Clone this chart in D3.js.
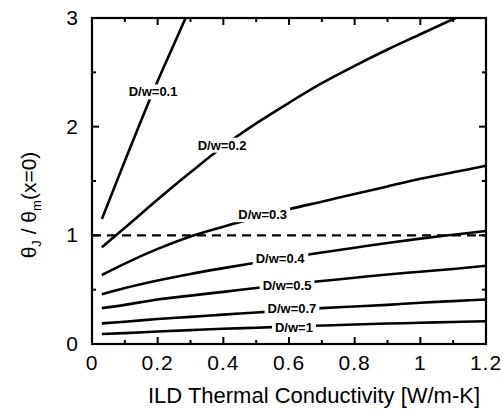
<!DOCTYPE html>
<html><head><meta charset="utf-8">
<script src="https://cdn.jsdelivr.net/npm/d3@7"></script>
<style>body{margin:0;background:#fff;} svg{display:block;}</style>
</head><body>
<svg id="chart" width="503" height="412"></svg>
<script>
// ---- data ----
const xCommon = [0.03,0.1,0.2,0.3,0.4,0.5,0.6,0.7,0.8,0.9,1.0,1.1,1.2];
const dw01X = [0.03,0.085,0.15,0.2,0.25,0.285];
const dw01Y = [1.15,1.57,2.06,2.42,2.76,3.0];
const dw02X = [0.03,0.1,0.2,0.3,0.4,0.5,0.6,0.7,0.8,0.9,1.0,1.107];
const dw02Y = [0.89,1.07,1.33,1.58,1.82,2.03,2.22,2.40,2.56,2.71,2.85,3.0];
const dw03Y = [0.635,0.74,0.875,0.99,1.08,1.16,1.24,1.31,1.38,1.45,1.52,1.58,1.64];
const dw04Y = [0.457,0.515,0.585,0.645,0.698,0.748,0.797,0.842,0.886,0.93,0.97,1.005,1.04];
const dw05Y = [0.33,0.36,0.41,0.445,0.48,0.515,0.55,0.58,0.61,0.64,0.665,0.69,0.72];
const dw07Y = [0.19,0.205,0.23,0.25,0.27,0.29,0.31,0.33,0.345,0.36,0.38,0.395,0.41];
const dw1Y  = [0.092,0.10,0.115,0.128,0.14,0.15,0.16,0.17,0.18,0.188,0.195,0.203,0.21];
const labels = ["D/w=0.1","D/w=0.2","D/w=0.3","D/w=0.4","D/w=0.5","D/w=0.7","D/w=1"];
const labelX = [0.186,0.396,0.52,0.573,0.594,0.609,0.615];
const labelY = [2.32,1.83,1.19,0.79,0.54,0.33,0.156];
const xTicks = [0,0.2,0.4,0.6,0.8,1,1.2];
const xTickLabels = ["0","0.2","0.4","0.6","0.8","1","1.2"];
const yTicks = [0,1,2,3];
const refLine = 1;

const series = [
  {x: dw01X, y: dw01Y},
  {x: dw02X, y: dw02Y},
  {x: xCommon, y: dw03Y},
  {x: xCommon, y: dw04Y},
  {x: xCommon, y: dw05Y},
  {x: xCommon, y: dw07Y},
  {x: xCommon, y: dw1Y}
];

const svg = d3.select("#chart");
const L = 92, R = 486, T = 18, B = 344;
const x = d3.scaleLinear().domain([0,1.2]).range([L,R]);
const y = d3.scaleLinear().domain([0,3]).range([B,T]);

svg.append("rect").attr("width",503).attr("height",412).attr("fill","#fff");

svg.append("defs").append("clipPath").attr("id","clip")
  .append("rect").attr("x",L).attr("y",T).attr("width",R-L).attr("height",B-T);

const line = d3.line().x(d=>x(d[0])).y(d=>y(d[1])).curve(d3.curveMonotoneX);
const g = svg.append("g").attr("clip-path","url(#clip)");

// dashed reference
g.append("line").attr("x1",x(0)).attr("x2",x(1.2)).attr("y1",y(refLine)).attr("y2",y(refLine))
  .attr("stroke","#000").attr("stroke-width",2.2).attr("stroke-dasharray","9,6");

series.forEach(s=>{
  g.append("path").datum(s.x.map((v,i)=>[v,s.y[i]])).attr("d",line)
    .attr("fill","none").attr("stroke","#000").attr("stroke-width",2.6);
});

// labels with white background
labels.forEach((t,i)=>{
  const lg = svg.append("g");
  const txt = lg.append("text").attr("x",x(labelX[i])).attr("y",y(labelY[i]))
    .attr("text-anchor","middle").attr("dominant-baseline","central")
    .attr("font-family","Liberation Sans, Arial, sans-serif").attr("font-weight","bold")
    .attr("font-size",13).text(t);
  const bb = txt.node().getBBox();
  lg.insert("rect","text").attr("x",bb.x-3).attr("y",bb.y).attr("width",bb.width+6).attr("height",bb.height).attr("fill","#fff");
});

// frame
svg.append("rect").attr("x",L).attr("y",T).attr("width",R-L).attr("height",B-T)
  .attr("fill","none").attr("stroke","#000").attr("stroke-width",2.2);

// ticks (inward, all sides)
const xMinor = d3.range(0,1.21,0.1);
const yMinor = d3.range(0,3.01,0.5);
xMinor.forEach(v=>{
  const major = xTicks.some(t=>Math.abs(t-v)<1e-6);
  const len = major?7:4;
  svg.append("line").attr("x1",x(v)).attr("x2",x(v)).attr("y1",B).attr("y2",B-len).attr("stroke","#000").attr("stroke-width",2);
  svg.append("line").attr("x1",x(v)).attr("x2",x(v)).attr("y1",T).attr("y2",T+len).attr("stroke","#000").attr("stroke-width",2);
});
yMinor.forEach(v=>{
  const major = yTicks.some(t=>Math.abs(t-v)<1e-6);
  const len = major?7:4;
  svg.append("line").attr("x1",L).attr("x2",L+len).attr("y1",y(v)).attr("y2",y(v)).attr("stroke","#000").attr("stroke-width",2);
  svg.append("line").attr("x1",R).attr("x2",R-len).attr("y1",y(v)).attr("y2",y(v)).attr("stroke","#000").attr("stroke-width",2);
});

// tick labels
const font = "Liberation Sans, Arial, sans-serif";
xTicks.forEach((v,i)=>{
  svg.append("text").attr("x",x(v)).attr("y",370).attr("text-anchor","middle")
    .attr("font-family",font).attr("font-size",21).attr("letter-spacing","1px").text(xTickLabels[i]);
});
yTicks.forEach(v=>{
  svg.append("text").attr("x",78).attr("y",y(v)+7).attr("text-anchor","end")
    .attr("font-family",font).attr("font-size",21).text(String(v));
});

// axis titles
svg.append("text").attr("x",314).attr("y",403).attr("text-anchor","middle")
  .attr("font-family",font).attr("font-size",22).text("ILD Thermal Conductivity [W/m-K]");

const yt = svg.append("text").attr("transform","translate(36,205) rotate(-90)")
  .attr("text-anchor","middle").attr("font-family",font).attr("font-size",21);
yt.append("tspan").text("θ");
yt.append("tspan").attr("font-size",13).attr("dy",5).text("J");
yt.append("tspan").attr("dy",-5).text(" / θ");
yt.append("tspan").attr("font-size",13).attr("dy",5).text("m");
yt.append("tspan").attr("dy",-5).text("(x=0)");
</script>
</body></html>
